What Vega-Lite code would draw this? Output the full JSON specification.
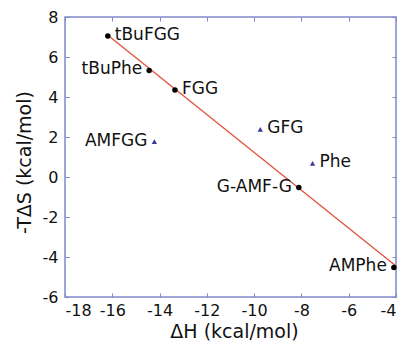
{
  "$schema": "https://vega.github.io/schema/vega-lite/v6.json",
  "autosize": "none",
  "width": 331,
  "height": 280,
  "padding": {"left": 65, "top": 17, "right": 7, "bottom": 48},
  "background": "white",
  "config": {
    "font": "DejaVu Sans",
    "view": {"stroke": "#8088c8", "strokeWidth": 1.5},
    "axis": {"grid": false, "domain": false, "tickColor": "#8088c8", "tickWidth": 1, "labelColor": "#111", "titleColor": "#111", "labelFontSize": 16, "titleFontSize": 19, "titleFontWeight": "normal", "labelFont": "DejaVu Sans", "titleFont": "DejaVu Sans"}
  },
  "datasets": {
    "pts": [
      {"name": "tBuFGG", "dH": -16.19, "TdS": 7.05, "type": "circle"},
      {"name": "tBuPhe", "dH": -14.44, "TdS": 5.33, "type": "circle"},
      {"name": "FGG", "dH": -13.35, "TdS": 4.35, "type": "circle"},
      {"name": "AMFGG", "dH": -14.22, "TdS": 1.77, "type": "triangle"},
      {"name": "GFG", "dH": -9.74, "TdS": 2.38, "type": "triangle"},
      {"name": "Phe", "dH": -7.53, "TdS": 0.68, "type": "triangle"},
      {"name": "G-AMF-G", "dH": -8.11, "TdS": -0.53, "type": "circle"},
      {"name": "AMPhe", "dH": -4.09, "TdS": -4.52, "type": "circle"}
    ],
    "fit": [
      {"dH": -16.2, "TdS": 7.1},
      {"dH": -4.0, "TdS": -4.45}
    ]
  },
  "layer": [
    {
      "data": {"name": "fit"},
      "mark": {"type": "line", "color": "#e3503c", "strokeWidth": 1.3},
      "encoding": {
        "x": {"field": "dH", "type": "quantitative", "scale": {"domain": [-18, -4], "nice": false, "zero": false},
          "axis": {"values": [-18, -16, -14, -12, -10, -8, -6, -4], "labelExpr": "'' + datum.value", "tickSize": -4, "labelPadding": 9, "title": "ΔH (kcal/mol)", "titleX": 169, "titleY": 34, "titleBaseline": "middle"}},
        "y": {"field": "TdS", "type": "quantitative", "scale": {"domain": [-6, 8], "nice": false, "zero": false},
          "axis": {"values": [-6, -4, -2, 0, 2, 4, 6, 8], "labelExpr": "'' + datum.value", "tickSize": -4, "labelPadding": 11, "title": "-TΔS (kcal/mol)", "titleX": -41, "titleY": 145, "titleAngle": -90, "titleBaseline": "middle"}}
      }
    },
    {
      "data": {"name": "fit"},
      "mark": {"type": "line", "opacity": 0},
      "encoding": {
        "x": {"field": "dH", "type": "quantitative", "scale": {"domain": [-18, -4], "nice": false, "zero": false},
          "axis": {"orient": "top", "values": [-18, -16, -14, -12, -10, -8, -6, -4], "tickSize": -4, "labels": false, "title": null}},
        "y": {"field": "TdS", "type": "quantitative", "scale": {"domain": [-6, 8], "nice": false, "zero": false},
          "axis": {"orient": "right", "values": [-6, -4, -2, 0, 2, 4, 6, 8], "tickSize": -4, "labels": false, "title": null}}
      }
    },
    {
      "data": {"name": "pts"},
      "transform": [{"filter": "datum.type == 'circle'"}],
      "mark": {"type": "point", "shape": "circle", "filled": true, "color": "black", "size": 30, "opacity": 1},
      "encoding": {
        "x": {"field": "dH", "type": "quantitative", "axis": null},
        "y": {"field": "TdS", "type": "quantitative", "axis": null}
      }
    },
    {
      "data": {"name": "pts"},
      "transform": [{"filter": "datum.type == 'triangle'"}],
      "mark": {"type": "point", "shape": "triangle-up", "filled": true, "color": "#3a3a9a", "size": 28, "opacity": 1},
      "encoding": {
        "x": {"field": "dH", "type": "quantitative", "axis": null},
        "y": {"field": "TdS", "type": "quantitative", "axis": null}
      }
    },
    {
      "data": {"name": "pts"},
      "transform": [{"filter": {"field": "name", "oneOf": ["tBuFGG", "FGG", "GFG", "Phe"]}}],
      "mark": {"type": "text", "align": "left", "baseline": "middle", "dx": 7, "dy": -1, "fontSize": 17, "color": "#111"},
      "encoding": {
        "x": {"field": "dH", "type": "quantitative", "axis": null},
        "y": {"field": "TdS", "type": "quantitative", "axis": null},
        "text": {"field": "name"}
      }
    },
    {
      "data": {"name": "pts"},
      "transform": [{"filter": {"field": "name", "oneOf": ["tBuPhe", "AMFGG", "G-AMF-G", "AMPhe"]}}],
      "mark": {"type": "text", "align": "right", "baseline": "middle", "dx": -7, "dy": -1, "fontSize": 17, "color": "#111"},
      "encoding": {
        "x": {"field": "dH", "type": "quantitative", "axis": null},
        "y": {"field": "TdS", "type": "quantitative", "axis": null},
        "text": {"field": "name"}
      }
    }
  ],
  "resolve": {"axis": {"x": "independent", "y": "independent"}}
}
